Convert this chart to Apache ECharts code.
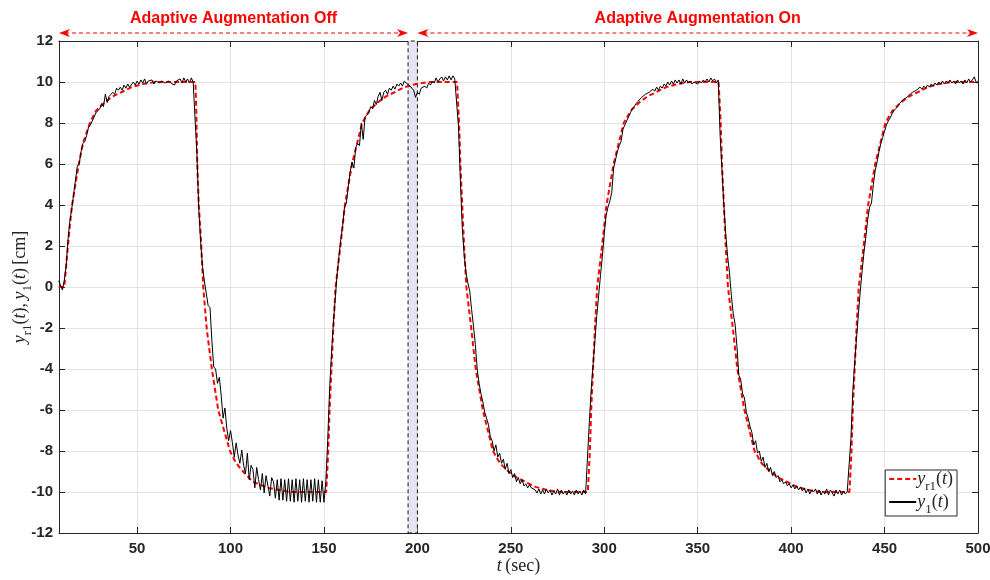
<!DOCTYPE html>
<html>
<head>
<meta charset="utf-8">
<title>Adaptive augmentation tracking</title>
<script src="https://cdn.jsdelivr.net/npm/echarts@6.0.0/dist/echarts.min.js"></script>
<style>
html, body { margin: 0; padding: 0; background: #fff; }
#trackingChart { width: 990px; height: 580px; }
</style>
</head>
<body>
<div id="trackingChart"></div>
<script>
// x axis range and tick labels (sec)
var xRange = [8.2, 500];
var xTicks = [50, 100, 150, 200, 250, 300, 350, 400, 450, 500];
var yRange = [-12, 12];
var yStep = 2;

// shaded transition band and the two phase labels
var bandRange = [195, 200];
var phaseLabels = ["Adaptive Augmentation Off", "Adaptive Augmentation On"];

// reference output y_r1(t) as [t, y]
var refPoints = [
    [8, 0], [11, 0], [12, 1], [13, 2], [14, 3], [15.2, 4], [17, 5], [18.8, 6], [21, 7], [24.7, 8],
    [28, 8.6], [32.7, 9], [37, 9.3], [41.6, 9.5], [47, 9.75], [53, 9.9], [60, 10],
    [81.2, 10], [81.7, 8.5], [82.2, 6], [83, 4], [84, 2.6], [85.4, 0], [87.2, -2], [90, -4],
    [93.4, -6], [99.7, -8], [103, -8.6], [106.7, -9], [112, -9.5], [120, -9.8], [132, -10],
    [151.2, -10], [152.3, -8], [153, -6], [154, -4], [155, -2], [156.2, 0], [158.8, 2], [161.2, 4],
    [165, 6], [170.4, 8], [174.2, 8.6], [178.7, 9], [183.2, 9.3], [187.7, 9.5], [193.2, 9.75],
    [199.2, 9.9], [206, 10],
    [221.2, 10], [222.3, 8], [223, 6], [224, 4], [225, 2], [226.2, 0], [228.8, -2], [231.2, -4],
    [235, -6], [240.4, -8], [244.2, -8.6], [248.7, -9], [253.2, -9.3], [257.7, -9.5], [263.2, -9.75],
    [269.2, -9.9], [276, -10],
    [291.2, -10], [292.3, -8], [293, -6], [294, -4], [295, -2], [296.2, 0], [298.8, 2], [301.2, 4],
    [305, 6], [310.4, 8], [314.2, 8.6], [318.7, 9], [323.2, 9.3], [327.7, 9.5], [333.2, 9.75],
    [339.2, 9.9], [346, 10],
    [361.2, 10], [362.3, 8], [363, 6], [364, 4], [365, 2], [366.2, 0], [368.8, -2], [371.2, -4],
    [375, -6], [380.4, -8], [384.2, -8.6], [388.7, -9], [393.2, -9.3], [397.7, -9.5], [403.2, -9.75],
    [409.2, -9.9], [416, -10],
    [431.2, -10], [432.3, -8], [433, -6], [434, -4], [435, -2], [436.2, 0], [438.8, 2], [441.2, 4],
    [445, 6], [450.4, 8], [454.2, 8.6], [458.7, 9], [463.2, 9.3], [467.7, 9.5], [473.2, 9.75],
    [479.2, 9.9], [486, 10], [500, 10]
];

// measured output y_1(t), one sample per second from t = 8
var y1Start = 8;
var y1Values = [
    0.3, 0.1,
    -0.15, 0.3, 1.0, 2.3, 3.2, 3.8, 4.5, 5.2, 5.9, 6.0,
    6.6, 7.0, 7.1, 7.4, 7.8, 7.9, 8.1, 8.3, 8.5, 8.5,
    8.7, 8.95, 8.8, 9.4, 9.0, 9.3, 9.4, 9.5, 9.4, 9.7,
    9.6, 9.75, 9.6, 9.85, 9.7, 9.9, 9.75, 9.8, 10.0, 9.85,
    10.05, 9.9, 10.1, 9.95, 10.15, 9.9, 10.05, 10.0, 10.1, 9.9,
    10.05, 10.0, 9.95, 10.05, 10.0, 9.95, 10.0, 10.05, 9.95, 10.0,
    9.85, 10.05, 10.0, 10.15, 9.95, 10.2, 10.0, 10.15, 9.95, 10.2,
    10.0, 10.05, 6.5, 3.8, 2.2, 1.0, 0.3, -0.3, -0.9, -1.0,
    -2.6, -3.9, -4.0, -4.7, -4.4, -5.3, -6.4, -5.9, -6.9, -7.5,
    -7.0, -7.6, -8.3, -7.6, -8.2, -8.6, -7.95, -8.7, -9.1, -8.1,
    -9.4, -8.7, -8.9, -9.8, -8.8, -9.4, -9.9, -9.1, -10.05, -9.2,
    -9.7, -10.2, -9.3, -9.5, -10.3, -9.4, -10.4, -9.35, -10.4, -9.4,
    -10.45, -9.35, -10.45, -9.4, -10.5, -9.35, -10.45, -9.4, -10.5, -9.35,
    -10.45, -9.4, -10.5, -9.4, -10.45, -9.35, -10.5, -9.4, -10.5, -9.45,
    -10.5, -9.5, -7.5, -5.0, -3.3, -1.8, -0.6, 0.6, 1.5, 2.3,
    3.0, 3.9, 4.1, 4.9, 5.6, 6.1, 5.8, 6.8, 7.0, 6.9,
    8.0, 7.2, 8.3, 8.4, 8.5, 8.8, 8.7, 9.1, 8.9, 9.3,
    9.5, 9.1, 9.5, 9.6, 9.4, 9.7, 9.6, 9.8, 9.65, 9.9,
    9.8, 9.95, 9.8, 10.05, 9.95, 10.0, 9.8, 9.7, 9.6, 9.25,
    9.5, 9.4, 9.7, 9.75, 9.8, 9.7, 9.95, 9.85, 10.05, 9.95,
    10.2, 10.0, 10.15, 10.25, 10.05, 10.25, 10.1, 10.3, 10.1, 10.3,
    10.15, 10.2, 7.8, 5.2, 2.9, 1.6, 0.7, 0.2, -0.2, -1.1,
    -1.9, -2.8, -4.0, -4.7, -5.2, -5.6, -6.1, -6.4, -6.7, -7.3,
    -7.5, -8.0, -7.7, -8.3, -8.1, -8.6, -8.4, -8.9, -8.6, -9.1,
    -8.9, -9.3, -9.1, -9.5, -9.3, -9.6, -9.4, -9.7, -9.6, -9.8,
    -9.65, -9.8, -9.75, -9.9, -10.05, -9.85, -10.1, -9.9, -10.1, -9.85,
    -10.05, -9.9, -10.15, -9.95, -10.1, -9.85, -10.15, -9.9, -10.1, -9.95,
    -10.15, -9.9, -10.1, -9.95, -10.15, -9.9, -10.1, -9.95, -10.15, -9.9,
    -10.1, -10.1, -6.6, -5.0, -3.8, -2.6, -1.4, -0.4, 0.6, 1.5,
    2.6, 3.5, 3.9, 4.2, 4.6, 5.8, 6.2, 6.6, 6.9, 7.1,
    7.7, 7.9, 8.1, 8.3, 8.5, 8.7, 8.8, 8.95, 9.05, 9.0,
    9.25, 9.2, 9.4, 9.35, 9.5, 9.45, 9.65, 9.55, 9.75, 9.6,
    9.8, 9.7, 9.9, 9.8, 10.0, 9.85, 10.05, 9.9, 10.1, 9.95,
    10.1, 9.9, 10.15, 9.95, 10.1, 9.95, 10.05, 9.9, 10.0, 9.95,
    9.9, 10.05, 9.95, 10.1, 10.0, 10.15, 10.0, 10.2, 10.05, 10.15,
    9.95, 10.1, 7.4, 5.7, 4.0, 2.6, 1.5, 0.7, -0.4, -1.3,
    -1.8, -2.9, -4.3, -4.5, -5.2, -5.4, -6.1, -6.4, -6.8, -7.1,
    -7.7, -7.5, -8.1, -8.0, -8.5, -8.3, -8.8, -8.6, -9.0, -8.8,
    -9.2, -9.0, -9.3, -9.2, -9.5, -9.4, -9.6, -9.5, -9.7, -9.6,
    -9.8, -9.65, -9.85, -9.7, -9.9, -9.75, -9.95, -9.8, -10.05, -9.85,
    -10.1, -9.9, -10.0, -9.85, -10.1, -9.9, -10.15, -9.95, -10.1, -9.85,
    -10.15, -9.9, -10.05, -10.2, -9.9, -10.1, -9.9, -10.15, -9.95, -10.1,
    -10.0, -10.05, -7.4, -5.1, -3.7, -2.5, -1.3, -0.2, 0.8, 1.7,
    2.45, 3.3, 3.9, 4.1, 5.0, 5.7, 6.1, 6.6, 7.0, 7.3,
    7.6, 7.9, 8.1, 8.25, 8.45, 8.6, 8.7, 8.8, 8.95, 9.0,
    9.15, 9.2, 9.25, 9.35, 9.3, 9.5, 9.45, 9.6, 9.55, 9.75,
    9.65, 9.8, 9.7, 9.85, 9.75, 9.9, 9.8, 9.95, 9.85, 10.0,
    9.9, 10.05, 9.9, 10.05, 9.95, 10.1, 9.95, 10.05, 9.9, 10.1,
    9.95, 10.05, 9.9, 10.1, 9.95, 10.15, 10.0, 10.1, 10.25, 10.0,
    9.95
];

var sansFont = "'Liberation Sans', Arial, Helvetica, sans-serif";
var serifFont = "'Liberation Serif', 'Times New Roman', serif";
var axisColor = "#262626";

var mathRich = {
    i: { fontFamily: serifFont, fontStyle: "italic", fontSize: 18, color: axisColor, lineHeight: 22 },
    n: { fontFamily: serifFont, fontSize: 18, color: axisColor, lineHeight: 22 },
    s: { fontFamily: serifFont, fontSize: 13, color: axisColor, lineHeight: 22, verticalAlign: "bottom", padding: [0, 0, -3, 0] },
};

var legendNames = {
    yr1: "{i|y}{s|r1}{n|(}{i|t}{n|)}",
    y1: "{i|y}{s|1}{n|(}{i|t}{n|)}",
};

var y1Data = y1Values.map((v, i) => [y1Start + i, v]);

let chartDom = document.getElementById("trackingChart");
let myChart = echarts.init(chartDom, null, { renderer: "canvas" });

let chartOption = {
    animation: false,
    backgroundColor: "#ffffff",
    grid: {
        left: 59,
        right: 12,
        top: 41,
        bottom: 47,
        containLabel: false,
        outerBoundsMode: "none",
    },
    legend: {
        data: ["yr1", "y1"],
        orient: "vertical",
        right: 33,
        bottom: 64,
        padding: [0, 4, 0, 3],
        itemGap: 0,
        itemWidth: 27,
        itemHeight: 14,
        backgroundColor: "#ffffff",
        borderColor: axisColor,
        borderWidth: 1,
        itemStyle: { opacity: 0 },
        formatter: (name) => legendNames[name],
        textStyle: { rich: mathRich, padding: [0, 0, 0, -4] },
    },
    xAxis: [
        {
            type: "value",
            min: xRange[0],
            max: xRange[1],
            position: "bottom",
            axisLine: { show: true, onZero: false, lineStyle: { color: axisColor, width: 1 } },
            axisTick: { show: true, inside: true, length: 6, customValues: xTicks, lineStyle: { color: axisColor } },
            axisLabel: {
                customValues: xTicks,
                color: axisColor,
                fontSize: 15,
                fontWeight: "bold",
                fontFamily: sansFont,
                margin: 8,
            },
            splitLine: { show: true, lineStyle: { color: "#e3e3e3", width: 1 } },
            name: "{i|t} {n|(sec)}",
            nameLocation: "middle",
            nameGap: 22,
            nameMoveOverlap: false,
            nameTextStyle: { rich: mathRich },
        },
        {
            type: "value",
            min: xRange[0],
            max: xRange[1],
            position: "top",
            axisLine: { show: true, onZero: false, lineStyle: { color: axisColor, width: 1 } },
            axisTick: { show: true, inside: true, length: 6, customValues: xTicks, lineStyle: { color: axisColor } },
            axisLabel: { show: false },
            splitLine: { show: false },
        },
    ],
    yAxis: [
        {
            type: "value",
            min: yRange[0],
            max: yRange[1],
            interval: yStep,
            position: "left",
            axisLine: { show: true, onZero: false, lineStyle: { color: axisColor, width: 1 } },
            axisTick: { show: true, inside: true, length: 6, lineStyle: { color: axisColor } },
            axisLabel: {
                color: axisColor,
                fontSize: 15,
                fontWeight: "bold",
                fontFamily: sansFont,
                margin: 6,
            },
            splitLine: { show: true, lineStyle: { color: "#e3e3e3", width: 1 } },
            name: "{i|y}{s|r1}{n|(}{i|t}{n|),} {i|y}{s|1}{n|(}{i|t}{n|)} {n|[cm]}",
            nameLocation: "middle",
            nameGap: 28,
            nameRotate: 90,
            nameMoveOverlap: false,
            nameTextStyle: { rich: mathRich },
        },
        {
            type: "value",
            min: yRange[0],
            max: yRange[1],
            interval: yStep,
            position: "right",
            axisLine: { show: true, onZero: false, lineStyle: { color: axisColor, width: 1 } },
            axisTick: { show: true, inside: true, length: 6, lineStyle: { color: axisColor } },
            axisLabel: { show: false },
            splitLine: { show: false },
        },
    ],
    series: [
        {
            name: "yr1",
            type: "line",
            data: refPoints,
            symbol: "none",
            z: 2,
            color: "#ff0000",
            lineStyle: { color: "#ff0000", width: 2, type: [5, 3] },
            markArea: {
                silent: true,
                itemStyle: {
                    color: "#e4e4f2",
                    borderColor: "#1a1a1a",
                    borderWidth: 1,
                    borderType: [4, 3],
                },
                data: [[{ xAxis: bandRange[0] }, { xAxis: bandRange[1] }]],
            },
        },
        {
            name: "y1",
            type: "line",
            data: y1Data,
            symbol: "none",
            z: 3,
            color: "#000000",
            lineStyle: { color: "#000000", width: 1 },
        },
    ],
};

myChart.setOption(chartOption);

// phase arrows and labels above the plot, placed from data positions
function drawPhases() {
    let spans = [
        [xRange[0], bandRange[0]],
        [bandRange[1], xRange[1]],
    ];
    let elements = [];
    spans.forEach((span, idx) => {
        let p1 = myChart.convertToPixel({ gridIndex: 0 }, [span[0], yRange[1]]);
        let p2 = myChart.convertToPixel({ gridIndex: 0 }, [span[1], yRange[1]]);
        let y = p1[1] - 8;
        let x1 = p1[0];
        let x2 = p2[0];
        elements.push({
            type: "line",
            shape: { x1: x1 + 6, y1: y, x2: x2 - 6, y2: y },
            style: { stroke: "#ff0000", lineWidth: 1, lineDash: [4, 3] },
            silent: true,
        });
        elements.push({
            type: "polygon",
            shape: { points: [[x1, y], [x1 + 11, y - 4], [x1 + 8, y], [x1 + 11, y + 4]] },
            style: { fill: "#ff0000" },
            silent: true,
        });
        elements.push({
            type: "polygon",
            shape: { points: [[x2, y], [x2 - 11, y - 4], [x2 - 8, y], [x2 - 11, y + 4]] },
            style: { fill: "#ff0000" },
            silent: true,
        });
        elements.push({
            type: "text",
            x: (x1 + x2) / 2,
            y: p1[1] - 22,
            style: {
                text: phaseLabels[idx],
                fill: "#ff0000",
                font: "bold 16px " + sansFont,
                textAlign: "center",
                textVerticalAlign: "middle",
            },
            silent: true,
        });
    });
    myChart.setOption({ graphic: elements });
}

drawPhases();

window.onresize = () => {
    myChart.resize();
    drawPhases();
};
</script>
</body>
</html>
